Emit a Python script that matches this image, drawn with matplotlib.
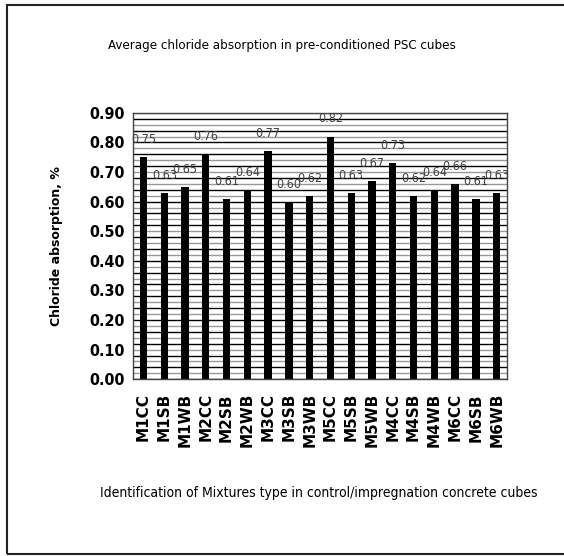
import matplotlib.pyplot as plt
import numpy as np
from matplotlib.patches import Rectangle

mixes = ["M1CC", "M1SB", "M1WB", "M2CC", "M2SB", "M2WB", "M3CC", "M3SB", "M3WB",
         "M5CC", "M5SB", "M5WB", "M4CC", "M4SB", "M4WB", "M6CC", "M6SB", "M6WB"]
absorption = [0.75, 0.63, 0.65, 0.76, 0.61, 0.64, 0.77, 0.60, 0.62,
              0.82, 0.63, 0.67, 0.73, 0.62, 0.64, 0.66, 0.61, 0.63]
yticks = [0.00, 0.10, 0.20, 0.30, 0.40, 0.50, 0.60, 0.70, 0.80, 0.90]

narrow = dict(family="DejaVu Sans", stretch="condensed")

fig = plt.figure(figsize=(5.64, 5.56), dpi=100)
ax = fig.add_axes([0.236, 0.318, 0.663, 0.479])

# gridlines every 0.02, alternating dark / grey like the original
grid_vals = np.round(np.arange(0.0, 0.9001, 0.02), 2)
for i, g in enumerate(grid_vals):
    ax.axhline(g, color="black" if i % 2 == 0 else "#999999", lw=1.0, zorder=0)

x = np.arange(len(mixes))
ax.bar(x, absorption, width=0.35, color="black", zorder=2)

for xi, v in zip(x, absorption):
    ax.annotate(f"{v:.2f}", (xi, v), xytext=(0, 8), textcoords="offset points",
                ha="center", va="bottom", fontsize=9, color="#404040", **narrow)

ax.set_xlim(-0.5, len(mixes) - 0.5)
ax.set_ylim(0, 0.9)
ax.set_yticks(yticks)
ax.set_yticklabels([f"{t:.2f}" for t in yticks], fontsize=11.5, fontweight="bold", **narrow)
ax.set_xticks(x)
ax.set_xticklabels(mixes, rotation=90, fontsize=11, fontweight="bold")
ax.tick_params(axis="both", length=0, pad=6)
ax.tick_params(axis="x", pad=10)
for s in ax.spines.values():
    s.set_color("#444444")
    s.set_linewidth(1.0)

ax.set_ylabel("Chloride absorption, %", fontsize=9, fontweight="bold", labelpad=19)

fig.text(0.5, 0.919, "Average chloride absorption in pre-conditioned PSC cubes",
         ha="center", va="center", fontsize=9.5, **narrow)
fig.text(0.565, 0.113, "Identification of Mixtures type in control/impregnation concrete cubes",
         ha="center", va="center", fontsize=10, **narrow)

fig.patches.append(Rectangle((0.0125, 0.003), 1.2, 0.988, transform=fig.transFigure,
                             fill=False, edgecolor="#222222", lw=1.5))

fig.savefig("out.png", dpi=100)
